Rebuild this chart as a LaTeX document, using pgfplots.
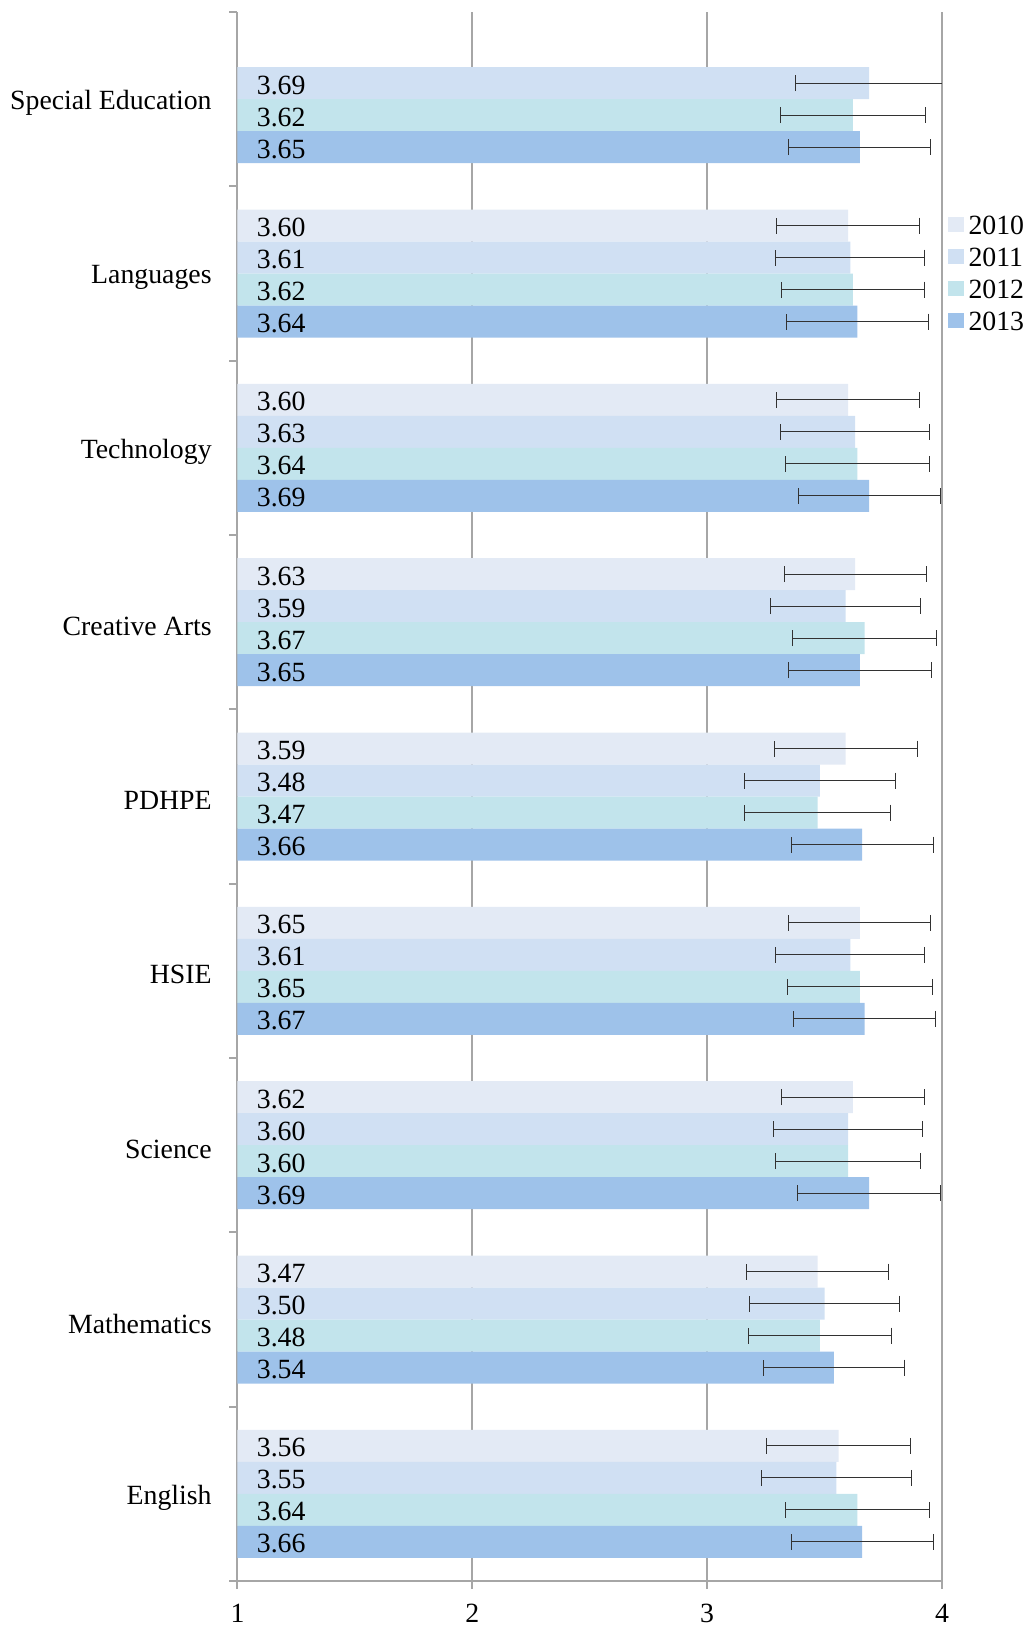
\documentclass[border=0pt]{standalone}
\usepackage{pgfplots}
\pgfplotsset{compat=1.18}
\usepackage{pgfplotstable}
\usepackage{fontspec}
\setmainfont{Liberation Serif}
\newcommand{\myfont}{\fontsize{13.9pt}{16pt}\selectfont}
\definecolor{c2010}{RGB}{227,234,245}
\definecolor{c2011}{RGB}{208,224,243}
\definecolor{c2012}{RGB}{194,228,236}
\definecolor{c2013}{RGB}{158,194,234}
\definecolor{gridgray}{RGB}{166,166,166}
\definecolor{errgray}{RGB}{50,50,50}

\pgfplotstableread{
pos val err
1 3.56 0.306
2 3.47 0.302
3 3.62 0.304
4 3.65 0.302
5 3.59 0.304
6 3.63 0.302
7 3.60 0.304
8 3.60 0.304
}\dA
\pgfplotstableread{
pos val err
1 3.55 0.320
2 3.50 0.320
3 3.60 0.317
4 3.61 0.317
5 3.48 0.320
6 3.59 0.320
7 3.63 0.317
8 3.61 0.317
9 3.69 0.313
}\dB
\pgfplotstableread{
pos val err
1 3.64 0.308
2 3.48 0.306
3 3.60 0.308
4 3.65 0.308
5 3.47 0.311
6 3.67 0.308
7 3.64 0.308
8 3.62 0.304
9 3.62 0.308
}\dC
\pgfplotstableread{
pos val err
1 3.66 0.302
2 3.54 0.302
3 3.69 0.304
4 3.67 0.304
5 3.66 0.302
6 3.65 0.304
7 3.69 0.302
8 3.64 0.302
9 3.65 0.302
}\dD

\pgfplotsset{
  mybar/.style={xbar, bar shift=0pt, bar width=0.18356, draw=none, fill=#1,
    legend image code/.code={\fill[#1] (0pt,-3.75pt) rectangle (7.5pt,3.75pt);},
    error bars/x dir=both, error bars/x explicit, error bars/error mark=|,
    error bars/error bar style={line width=0.5pt, errgray},
    error bars/error mark options={line width=0.5pt, errgray, mark size=4pt}},
  mylab/.style={mark=none, draw=none, forget plot,
    nodes near coords, point meta=explicit symbolic,
    nodes near coords style={anchor=west, inner sep=0pt, xshift=9.5pt, yshift=-1pt, font=\myfont, text=black}},
}

\begin{document}
\begin{tikzpicture}
\begin{axis}[
  scale only axis, width=352.25pt, height=784.5pt,
  xmin=1, xmax=4, ymin=0.5, ymax=9.5,
  axis lines=left, axis line style={-, draw=gridgray, line width=1pt},
  xtick={1,2,3,4}, xmajorgrids, grid style={draw=gridgray, line width=1pt},
  ytick={1,...,9},
  yticklabels={English,Mathematics,Science,HSIE,PDHPE,Creative Arts,Technology,Languages,Special Education},
  minor ytick={0.5,1.5,...,9.5},
  tick align=outside, major tick length=4pt, minor tick length=4pt,
  major y tick style={draw=none},
  minor y tick style={draw=gridgray, line width=1pt},
  major x tick style={draw=gridgray, line width=1pt},
  tick label style={font=\myfont, text=black},
  /pgf/number format/assume math mode=true,
  xticklabel style={yshift=-4pt},
  yticklabel style={xshift=-5.4pt, yshift=-2pt},
  clip=true,
  legend style={draw=none, fill=none, inner sep=0pt, outer sep=0pt, font=\myfont,
    at={(1,0.8337)}, anchor=west, xshift=3.25pt, row sep=6.5pt,
    cells={anchor=west}, nodes={inner xsep=2.5pt, inner ysep=0pt, text height=9.5pt, text depth=0pt}},
]
\addplot[mybar=c2010] table[x=val, y expr=\thisrow{pos}+0.27534, x error=err] {\dA};
\addplot[mybar=c2011] table[x=val, y expr=\thisrow{pos}+0.09178, x error=err] {\dB};
\addplot[mybar=c2012] table[x=val, y expr=\thisrow{pos}-0.09178, x error=err] {\dC};
\addplot[mybar=c2013] table[x=val, y expr=\thisrow{pos}-0.27534, x error=err] {\dD};
\legend{2010,2011,2012,2013}
\addplot[mylab] table[x expr=1, y expr=\thisrow{pos}+0.27534, meta=val] {\dA};
\addplot[mylab] table[x expr=1, y expr=\thisrow{pos}+0.09178, meta=val] {\dB};
\addplot[mylab] table[x expr=1, y expr=\thisrow{pos}-0.09178, meta=val] {\dC};
\addplot[mylab] table[x expr=1, y expr=\thisrow{pos}-0.27534, meta=val] {\dD};
\end{axis}
\pgfresetboundingbox
\path (-118.75pt,-24.5pt) rectangle (396.75pt,790.5pt);
\end{tikzpicture}
\end{document}
